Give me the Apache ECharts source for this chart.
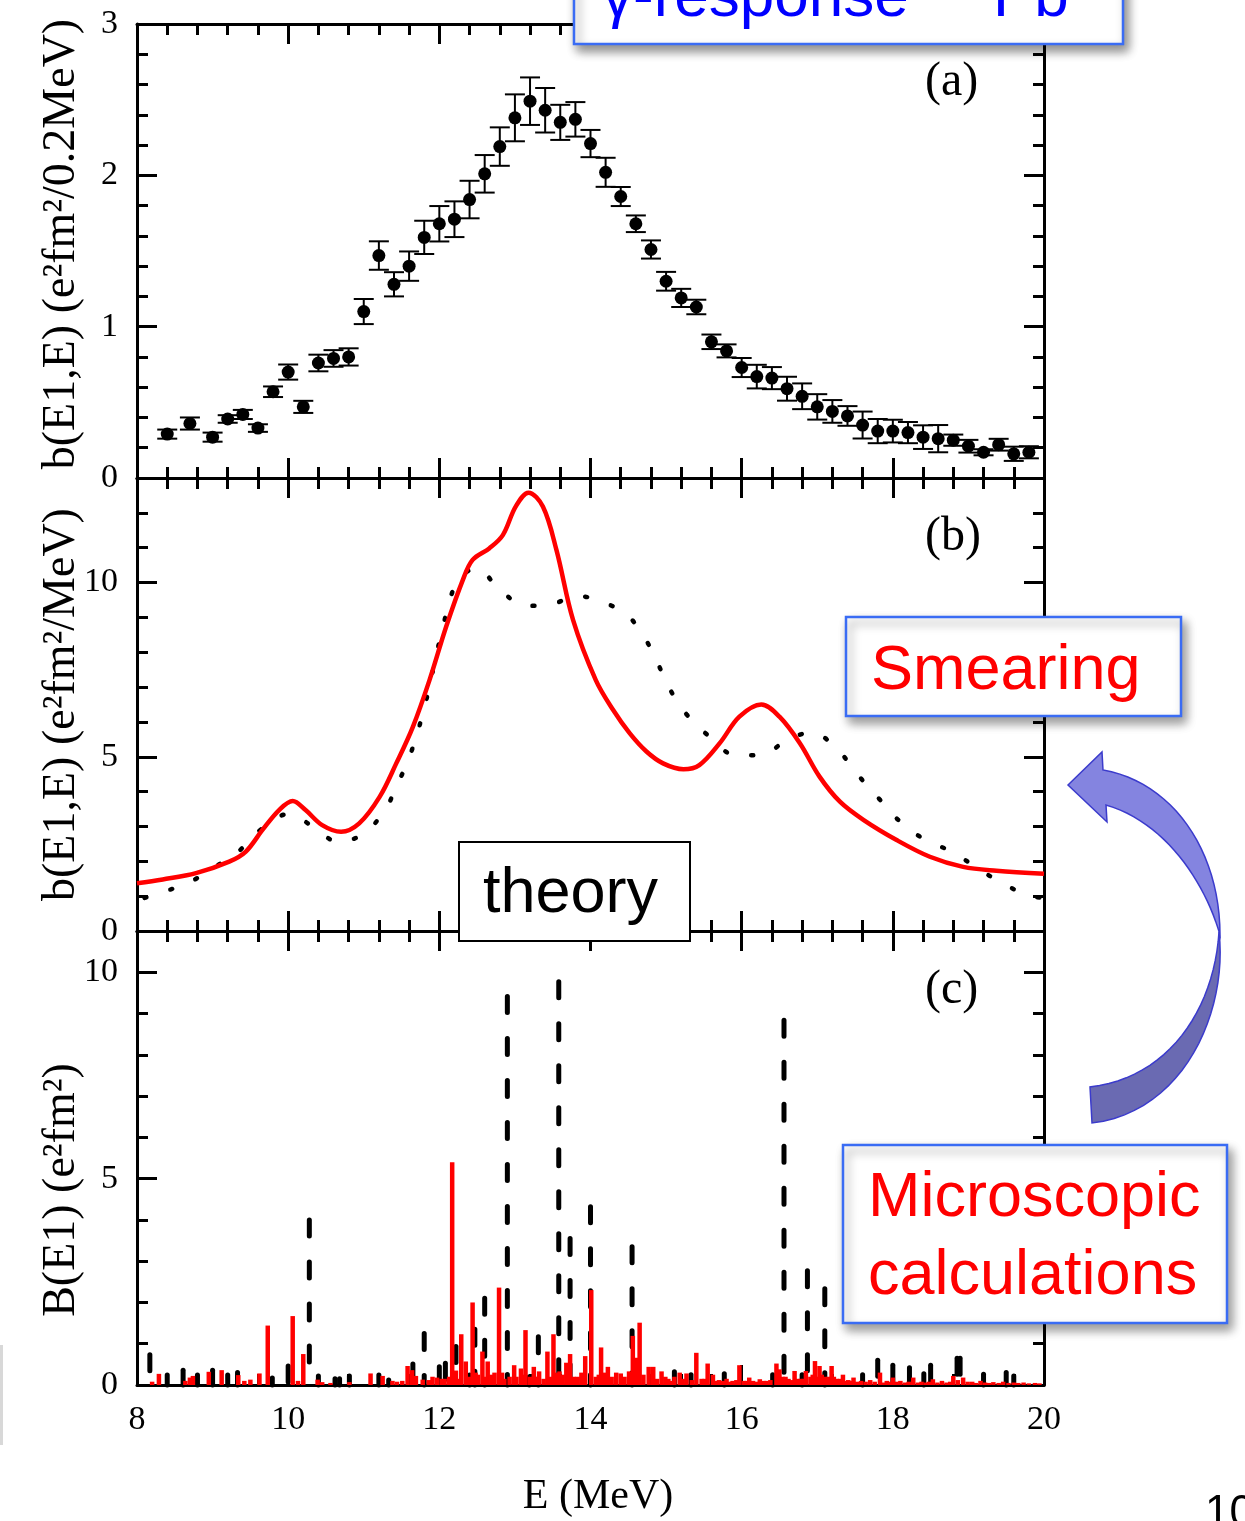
<!DOCTYPE html>
<html><head><meta charset="utf-8">
<script src="https://cdn.jsdelivr.net/npm/echarts@6/dist/echarts.min.js"></script>
<style>html,body{margin:0;padding:0;background:#fff}#c{width:1245px;height:1521px}</style>
</head><body><div id="c"></div>
<script>
// ---------- Panel (a): experimental data ----------
const aE = [8.4, 8.7, 9.0, 9.2, 9.4, 9.6, 9.8, 10.0, 10.2, 10.4, 10.6, 10.8, 11.0, 11.2, 11.4, 11.6, 11.8, 12.0, 12.2, 12.4, 12.6, 12.8, 13.0, 13.2, 13.4, 13.6, 13.8, 14.0, 14.2, 14.4, 14.6, 14.8, 15.0, 15.2, 15.4, 15.6, 15.8, 16.0, 16.2, 16.4, 16.6, 16.8, 17.0, 17.2, 17.4, 17.6, 17.8, 18.0, 18.2, 18.4, 18.6, 18.8, 19.0, 19.2, 19.4, 19.6, 19.8];
const aB = [0.29, 0.36, 0.27, 0.39, 0.42, 0.33, 0.57, 0.70, 0.47, 0.76, 0.79, 0.80, 1.10, 1.47, 1.28, 1.40, 1.59, 1.68, 1.71, 1.84, 2.01, 2.19, 2.38, 2.49, 2.43, 2.35, 2.37, 2.21, 2.02, 1.86, 1.68, 1.51, 1.30, 1.19, 1.13, 0.90, 0.84, 0.73, 0.67, 0.66, 0.59, 0.54, 0.47, 0.44, 0.41, 0.35, 0.31, 0.31, 0.30, 0.27, 0.26, 0.25, 0.21, 0.17, 0.22, 0.16, 0.17];
const aErr = [0.03, 0.04, 0.03, 0.025, 0.03, 0.025, 0.035, 0.05, 0.04, 0.055, 0.055, 0.057, 0.083, 0.094, 0.08, 0.097, 0.11, 0.117, 0.118, 0.124, 0.124, 0.127, 0.155, 0.157, 0.147, 0.116, 0.114, 0.09, 0.096, 0.063, 0.055, 0.06, 0.062, 0.06, 0.048, 0.048, 0.043, 0.063, 0.078, 0.073, 0.079, 0.085, 0.084, 0.075, 0.065, 0.089, 0.08, 0.075, 0.07, 0.078, 0.09, 0.037, 0.042, 0.02, 0.039, 0.047, 0.04];

// ---------- Panel (b): smeared strength ----------
const bRedE = [8.0, 8.34, 8.78, 9.22, 9.44, 9.66, 9.88, 10.06, 10.23, 10.45, 10.70, 10.94, 11.21, 11.43, 11.65, 11.87, 12.09, 12.31, 12.44, 12.66, 12.84, 13.01, 13.18, 13.37, 13.55, 13.77, 14.07, 14.30, 14.52, 14.74, 14.96, 15.23, 15.44, 15.71, 15.97, 16.26, 16.50, 16.77, 17.03, 17.30, 17.61, 18.05, 18.49, 18.93, 19.37, 20.0];
const bRed = [1.37, 1.48, 1.66, 1.99, 2.28, 2.90, 3.47, 3.73, 3.47, 3.04, 2.85, 3.09, 3.85, 4.81, 5.86, 7.20, 8.73, 10.07, 10.65, 10.98, 11.36, 12.18, 12.58, 12.18, 10.93, 8.92, 7.20, 6.34, 5.67, 5.15, 4.81, 4.64, 4.76, 5.39, 6.15, 6.50, 6.15, 5.39, 4.43, 3.71, 3.19, 2.61, 2.13, 1.84, 1.73, 1.64];
const bDotE = [8.1, 8.31, 8.67, 9.0, 9.33, 9.66, 10.01, 10.33, 10.66, 10.99, 11.28, 11.45, 11.60, 11.80, 12.03, 12.23, 12.49, 12.80, 13.14, 13.48, 13.85, 14.14, 14.47, 14.72, 14.89, 15.05, 15.27, 15.59, 15.92, 16.26, 16.59, 16.92, 17.25, 17.51, 17.82, 18.12, 18.45, 18.78, 19.12, 19.45, 19.78, 20.0];
const bDot = [0.95, 1.10, 1.37, 1.80, 2.26, 2.95, 3.36, 2.99, 2.56, 2.78, 3.47, 4.24, 4.96, 6.39, 8.56, 10.0, 10.41, 9.80, 9.33, 9.38, 9.61, 9.45, 9.10, 8.40, 7.68, 6.94, 6.22, 5.55, 5.04, 5.05, 5.46, 5.70, 5.26, 4.55, 3.79, 3.09, 2.59, 2.28, 1.80, 1.37, 1.03, 0.95];

// ---------- Panel (c): discrete B(E1) ----------
const cBlackE = [8.17, 8.40, 8.61, 8.80, 9.00, 9.20, 9.33, 9.79, 10.00, 10.28, 10.40, 10.62, 10.68, 10.81, 11.20, 11.33, 11.65, 11.80, 12.00, 12.08, 12.22, 12.40, 12.47, 12.60, 12.90, 13.19, 13.31, 13.58, 13.73, 14.00, 14.55, 15.11, 15.33, 15.77, 16.41, 16.56, 16.80, 16.87, 17.10, 17.60, 17.80, 18.00, 18.22, 18.41, 18.50, 18.85, 18.89, 19.20, 19.50, 19.60];
const cBlackV = [0.73, 0.24, 0.36, 0.24, 0.36, 0.24, 0.30, 0.17, 0.46, 4.00, 0.22, 0.15, 0.15, 0.22, 0.24, 0.12, 0.51, 1.25, 0.44, 0.53, 0.93, 0.24, 1.35, 2.10, 9.41, 0.20, 1.17, 9.77, 3.55, 4.32, 3.35, 0.32, 0.25, 0.27, 0.25, 8.84, 0.25, 2.77, 2.33, 0.25, 0.60, 0.48, 0.42, 0.27, 0.48, 0.65, 0.65, 0.26, 0.30, 0.22];
const cRedE = [8.20, 8.29, 8.64, 8.70, 8.74, 8.95, 9.12, 9.34, 9.42, 9.50, 9.62, 9.73, 10.06, 10.13, 10.20, 10.39, 10.45, 10.56, 10.81, 11.09, 11.25, 11.38, 11.51, 11.58, 11.64, 11.69, 11.78, 11.91, 11.97, 12.03, 12.17, 12.22, 12.29, 12.35, 12.44, 12.51, 12.57, 12.64, 12.73, 12.79, 12.86, 12.93, 12.99, 13.08, 13.14, 13.20, 13.25, 13.32, 13.38, 13.43, 13.51, 13.59, 13.68, 13.73, 13.83, 13.93, 14.01, 14.07, 14.14, 14.23, 14.34, 14.40, 14.51, 14.56, 14.60, 14.65, 14.70, 14.77, 14.83, 14.94, 15.03, 15.11, 15.18, 15.27, 15.40, 15.47, 15.55, 15.62, 15.70, 15.80, 15.88, 15.97, 16.03, 16.10, 16.24, 16.33, 16.46, 16.50, 16.58, 16.70, 16.78, 16.85, 16.91, 16.97, 17.03, 17.10, 17.19, 17.26, 17.34, 17.41, 17.48, 17.58, 17.70, 17.83, 17.92, 18.00, 18.10, 18.27, 18.38, 18.53, 18.65, 18.80, 18.93, 19.05, 19.16, 19.33, 19.46, 19.60, 19.73, 19.88,
  11.44, 11.86, 12.07, 12.13, 12.26, 12.40, 12.48, 12.61, 12.69, 12.83, 13.02, 13.11, 13.29, 13.47, 13.55, 13.63, 13.78, 13.88, 14.11, 14.19, 14.28, 14.45, 14.88, 14.99, 15.07, 15.22, 15.34, 15.51, 15.66, 15.75, 15.85, 15.93, 16.07, 16.15, 16.20, 16.29, 16.38, 16.54, 16.62, 16.66, 16.74, 16.82, 16.94, 17.00, 17.06, 17.15, 17.22, 17.30, 17.37, 17.44, 17.53, 17.64, 17.76, 17.88, 17.97, 18.05, 18.16, 18.21, 18.33, 18.44, 18.48, 18.59, 18.71, 18.76, 18.86, 18.99, 19.10, 19.22, 19.27, 19.40, 19.53, 19.66, 19.80, 19.94];
const cRedV = [0.08, 0.27, 0.10, 0.18, 0.22, 0.32, 0.36, 0.24, 0.10, 0.13, 0.28, 1.44, 1.67, 0.10, 0.75, 0.13, 0.07, 0.05, 0.07, 0.28, 0.22, 0.10, 0.10, 0.46, 0.36, 0.22, 0.13, 0.20, 0.18, 0.15, 5.40, 0.35, 1.23, 0.57, 2.00, 0.25, 0.81, 0.57, 0.30, 2.36, 0.15, 0.20, 0.48, 0.40, 1.33, 0.20, 0.44, 0.33, 0.15, 0.81, 1.23, 0.33, 0.54, 0.75, 0.20, 0.70, 2.30, 0.20, 0.91, 0.44, 0.30, 0.28, 0.33, 1.19, 0.66, 1.51, 0.25, 0.44, 0.44, 0.33, 0.15, 0.20, 0.30, 0.28, 0.78, 0.15, 0.52, 0.25, 0.12, 0.15, 0.10, 0.48, 0.10, 0.18, 0.14, 0.10, 0.52, 0.38, 0.20, 0.34, 0.15, 0.34, 0.20, 0.58, 0.46, 0.20, 0.46, 0.15, 0.25, 0.12, 0.18, 0.10, 0.12, 0.30, 0.10, 0.18, 0.10, 0.18, 0.08, 0.14, 0.10, 0.22, 0.18, 0.08, 0.10, 0.07, 0.08, 0.06, 0.06, 0.05,
  0.08, 0.12, 0.15, 0.20, 0.15, 0.20, 0.30, 0.20, 0.25, 0.30, 0.20, 0.25, 0.20, 0.20, 0.30, 0.25, 0.20, 0.30, 0.25, 0.30, 0.20, 0.20, 0.15, 0.20, 0.10, 0.15, 0.12, 0.15, 0.10, 0.10, 0.08, 0.12, 0.10, 0.10, 0.08, 0.10, 0.12, 0.20, 0.15, 0.12, 0.15, 0.15, 0.25, 0.20, 0.25, 0.20, 0.20, 0.15, 0.10, 0.10, 0.08, 0.08, 0.08, 0.06, 0.08, 0.08, 0.06, 0.08, 0.06, 0.06, 0.08, 0.06, 0.06, 0.08, 0.12, 0.08, 0.05, 0.06, 0.05, 0.05, 0.05, 0.05, 0.04, 0.04];

// ---------- Axis ticks / labels ----------
const xTicks = {min: 8, max: 20, interval: 2};
const yTicksA = {min: 0, max: 3, interval: 1};
const yTicksB = {min: 0, max: 13, interval: 5};
const yTicksC = {min: 0, max: 11, interval: 5};
const yNames = ['b(E1,E) (e²fm²/0.2MeV)', 'b(E1,E) (e²fm²/MeV)', 'B(E1) (e²fm²)'];
const xName = 'E (MeV)';

const SERIF = '"Liberation Serif", "Times New Roman", serif';
const SANS = '"Liberation Sans", Arial, sans-serif';

function baseAxis(o) {
  return Object.assign({
    type: 'value',
    axisLine: {show: true, onZero: false, lineStyle: {color: '#000', width: 3}},
    axisTick: {show: true, inside: true, length: 20, lineStyle: {color: '#000', width: 3}},
    minorTick: {show: true, splitNumber: 5, length: 11, lineStyle: {color: '#000', width: 3}},
    splitLine: {show: false},
    minorSplitLine: {show: false},
    axisLabel: {show: false}
  }, o);
}
const labelStyle = {show: true, fontFamily: SERIF, fontSize: 34, color: '#000', margin: 19};

const xAxes = [], yAxes = [];
const yT = [yTicksA, yTicksB, yTicksC];
const namePads = [[0, 0, 0, 14], [0, 0, 0, 0], [0, 64, 0, 0]];
for (let g = 0; g < 3; g++) {
  xAxes.push(baseAxis(Object.assign({gridIndex: g, position: 'bottom'}, xTicks,
    g === 2 ? {
      axisLabel: Object.assign({}, labelStyle, {margin: 18}),
      name: xName, nameLocation: 'middle', nameGap: 91, nameMoveOverlap: false,
      nameTextStyle: {fontFamily: SERIF, fontSize: 42, color: '#000', padding: [0, 0, 0, 15]}
    } : {})));
  xAxes.push(baseAxis(Object.assign({gridIndex: g, position: 'top'}, xTicks)));
  yAxes.push(baseAxis(Object.assign({gridIndex: g, position: 'left'}, yT[g], {
    axisLabel: Object.assign({}, labelStyle, {showMaxLabel: g === 0}),
    name: yNames[g], nameLocation: 'middle', nameGap: 52, nameMoveOverlap: false,
    nameTextStyle: {fontFamily: SERIF, fontSize: 46, color: '#000', padding: namePads[g]}
  })));
  yAxes.push(baseAxis(Object.assign({gridIndex: g, position: 'right'}, yT[g])));
}

function stickRenderer(color, width, dash) {
  return function (params, api) {
    const top = api.coord([api.value(0), api.value(1)]);
    const bot = api.coord([api.value(0), 0]);
    const style = {stroke: color, lineWidth: width, lineCap: dash ? 'round' : 'butt'};
    if (dash) style.lineDash = dash;
    return {
      type: 'line',
      shape: {x1: top[0], y1: top[1], x2: bot[0], y2: bot[1]},
      style: style
    };
  };
}

// bezier helper for the decorative arrow outline (screen-space shape)
function bez(p0, p1, p2, p3, n) {
  const pts = [];
  for (let i = 0; i <= n; i++) {
    const t = i / n, u = 1 - t;
    pts.push([
      u*u*u*p0[0] + 3*u*u*t*p1[0] + 3*u*t*t*p2[0] + t*t*t*p3[0],
      u*u*u*p0[1] + 3*u*u*t*p1[1] + 3*u*t*t*p2[1] + t*t*t*p3[1]
    ]);
  }
  return pts;
}
const arrowTop = [[1068, 785], [1102, 752]]
  .concat(bez([1103, 770], [1172, 782], [1220, 850], [1220, 935], 24))
  .concat(bez([1220, 935], [1205, 882], [1165, 822], [1106, 805], 24))
  .concat([[1107, 822]]);
const arrowBottom = bez([1219, 932], [1228, 1010], [1185, 1112], [1092, 1123], 24)
  .concat(bez([1090, 1087], [1168, 1078], [1214, 1010], [1219, 932], 24));

const option = {
  animation: false,
  backgroundColor: '#fff',
  grid: [
    {left: 137, right: 201, top: 24, height: 454},
    {left: 137, right: 201, top: 478, height: 453},
    {left: 137, right: 201, top: 931, height: 454}
  ],
  xAxis: xAxes,
  yAxis: yAxes,
  series: [
    {
      type: 'custom', xAxisIndex: 0, yAxisIndex: 0, silent: true,
      data: aE.map((e, i) => [e, aB[i], aErr[i]]),
      encode: {x: 0, y: 1},
      renderItem: function (params, api) {
        const x = api.value(0), y = api.value(1), er = api.value(2);
        const t = api.coord([x, y + er]), b = api.coord([x, y - er]);
        const hw = 10, st = {stroke: '#000', lineWidth: 2};
        return {type: 'group', children: [
          {type: 'line', shape: {x1: t[0], y1: t[1], x2: b[0], y2: b[1]}, style: st},
          {type: 'line', shape: {x1: t[0] - hw, y1: t[1], x2: t[0] + hw, y2: t[1]}, style: st},
          {type: 'line', shape: {x1: b[0] - hw, y1: b[1], x2: b[0] + hw, y2: b[1]}, style: st}
        ]};
      }
    },
    {
      type: 'scatter', xAxisIndex: 0, yAxisIndex: 0, symbol: 'circle', symbolSize: 13,
      itemStyle: {color: '#000', opacity: 1},
      data: aE.map((e, i) => [e, aB[i]])
    },
    {
      type: 'line', xAxisIndex: 2, yAxisIndex: 2, showSymbol: false, smooth: 0.35,
      lineStyle: {color: '#000', width: 4.5, type: [2, 25], cap: 'round'},
      data: bDotE.map((e, i) => [e, bDot[i]])
    },
    {
      type: 'line', xAxisIndex: 2, yAxisIndex: 2, showSymbol: false, smooth: 0.35,
      lineStyle: {color: '#ff0000', width: 4.5},
      data: bRedE.map((e, i) => [e, bRed[i]])
    },
    {
      type: 'custom', xAxisIndex: 4, yAxisIndex: 4, silent: true,
      data: cBlackE.map((e, i) => [e, cBlackV[i]]),
      encode: {x: 0, y: 1},
      renderItem: stickRenderer('#000', 5, [16, 26])
    },
    {
      type: 'custom', xAxisIndex: 4, yAxisIndex: 4, silent: true,
      data: cRedE.map((e, i) => [e, cRedV[i]]),
      encode: {x: 0, y: 1},
      renderItem: stickRenderer('#ff0000', 4.5, null)
    }
  ],
  graphic: {
    elements: [
      // panel labels
      {type: 'text', x: 925, y: 82, z: 50, style: {text: '(a)', font: '48px ' + SERIF, fill: '#000', textVerticalAlign: 'middle'}},
      {type: 'text', x: 925, y: 537, z: 50, style: {text: '(b)', font: '48px ' + SERIF, fill: '#000', textVerticalAlign: 'middle'}},
      {type: 'text', x: 925, y: 990, z: 50, style: {text: '(c)', font: '48px ' + SERIF, fill: '#000', textVerticalAlign: 'middle'}},
      // top title box (cut off)
      {type: 'rect', z: 100, shape: {x: 574, y: -30, width: 549, height: 74},
        style: {fill: '#fff', stroke: '#3a6cf4', lineWidth: 2.5, shadowBlur: 10, shadowColor: 'rgba(0,0,0,0.45)', shadowOffsetX: 4, shadowOffsetY: 6}},
      {type: 'text', z: 101, x: 602, y: -1, style: {text: 'γ-response', font: '62px ' + SANS, fill: '#0000ff', textVerticalAlign: 'middle'}},
      {type: 'text', z: 101, x: 993, y: -1, style: {text: 'Pb', font: '62px ' + SANS, fill: '#0000ff', textVerticalAlign: 'middle'}},
      // Smearing box
      {type: 'rect', z: 100, shape: {x: 846, y: 617, width: 335, height: 99},
        style: {fill: '#fff', stroke: '#3a6cf4', lineWidth: 2.5, shadowBlur: 10, shadowColor: 'rgba(0,0,0,0.4)', shadowOffsetX: 4, shadowOffsetY: 6}},
      {type: 'text', z: 101, x: 871, y: 672, style: {text: 'Smearing', font: '63px ' + SANS, fill: '#ff0000', textVerticalAlign: 'middle'}},
      // Microscopic calculations box
      {type: 'rect', z: 100, shape: {x: 843, y: 1145, width: 384, height: 178},
        style: {fill: '#fff', stroke: '#3a6cf4', lineWidth: 2.5, shadowBlur: 10, shadowColor: 'rgba(0,0,0,0.4)', shadowOffsetX: 4, shadowOffsetY: 6}},
      {type: 'text', z: 101, x: 868, y: 1199, style: {text: 'Microscopic', font: '63px ' + SANS, fill: '#ff0000', textVerticalAlign: 'middle'}},
      {type: 'text', z: 101, x: 868, y: 1277, style: {text: 'calculations', font: '63px ' + SANS, fill: '#ff0000', textVerticalAlign: 'middle'}},
      // theory box
      {type: 'rect', z: 100, shape: {x: 459, y: 842, width: 231, height: 99},
        style: {fill: '#fff', stroke: '#000', lineWidth: 2}},
      {type: 'text', z: 101, x: 483, y: 895, style: {text: 'theory', font: '63px ' + SANS, fill: '#000', textVerticalAlign: 'middle'}},
      // curved arrow
      {type: 'polygon', z: 100, shape: {points: arrowBottom},
        style: {fill: '#6a6ab2', stroke: '#3b3bcc', lineWidth: 1.5}},
      {type: 'polygon', z: 101, shape: {points: arrowTop},
        style: {fill: '#8484e0', stroke: '#3b3bcc', lineWidth: 1.5}},
      // page number (cut off) and left edge strip
      {type: 'text', z: 101, x: 1205, y: 1514, style: {text: '10', font: '44px ' + SANS, fill: '#000', textVerticalAlign: 'middle'}},
      {type: 'rect', z: 100, shape: {x: 0, y: 1345, width: 3, height: 100}, style: {fill: '#d8d8d8'}}
    ]
  }
};
const chart = echarts.init(document.getElementById('c'), null, {renderer: 'canvas'});
chart.setOption(option);
</script></body></html>
